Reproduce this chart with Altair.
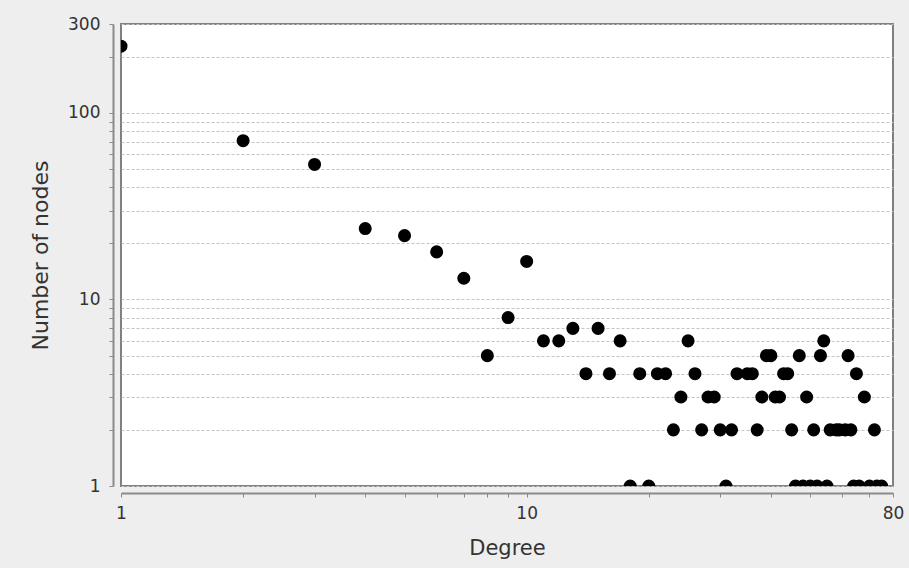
import altair as alt
import pandas as pd

degree = [1, 2, 3, 4, 5, 6, 7, 8, 9, 10,
          11, 12, 13, 14, 15, 16, 17, 18, 19, 20,
          21, 22, 23, 24, 25, 26, 27, 28, 29, 30,
          31, 32, 33, 35, 36, 37, 38, 39, 40, 41,
          42, 43, 44, 45, 46, 47, 48, 49, 50, 51,
          52, 53, 54, 55, 56, 58, 59, 61, 62, 63,
          64, 65, 66, 68, 70, 72, 73, 75]
nodes = [228, 71, 53, 24, 22, 18, 13, 5, 8, 16,
         6, 6, 7, 4, 7, 4, 6, 1, 4, 1,
         4, 4, 2, 3, 6, 4, 2, 3, 3, 2,
         1, 2, 4, 4, 4, 2, 3, 5, 5, 3,
         3, 4, 4, 2, 1, 5, 1, 3, 1, 2,
         1, 5, 6, 1, 2, 2, 2, 2, 5, 2,
         1, 4, 1, 3, 1, 2, 1, 1]

x_ticks = [1, 2, 3, 4, 5, 6, 7, 8, 9, 10, 20, 30, 40, 50, 60, 70, 80]
x_labels = [1, 10, 80]
y_ticks = [1, 2, 3, 4, 5, 6, 7, 8, 9, 10, 20, 30, 40, 50, 60, 70, 80, 90, 100, 200, 300]
y_labels = [1, 10, 100, 300]

df = pd.DataFrame({"degree": degree, "nodes": nodes})

FONT = "DejaVu Sans"
AX = "#8a8a8a"
TXT = "#333333"

chart = alt.Chart(df).mark_circle(size=170, color="black", opacity=1, clip=True).encode(
    x=alt.X(
        "degree:Q",
        scale=alt.Scale(type="log", domain=[1, 80], nice=False, zero=False),
        axis=alt.Axis(
            title="Degree",
            values=x_ticks,
            labelExpr="indexof(" + str(x_labels) + ", datum.value) >= 0 ? format(datum.value, 'd') : ''",
            labelOverlap=False,
            labelFlush=False,
            grid=False,
            offset=7,
            tickSize=4,
            labelPadding=8,
            titlePadding=16,
            titleFontSize=21,
        ),
    ),
    y=alt.Y(
        "nodes:Q",
        scale=alt.Scale(type="log", domain=[1, 300], nice=False, zero=False),
        axis=alt.Axis(
            title="Number of nodes",
            values=y_ticks,
            labelExpr="indexof(" + str(y_labels) + ", datum.value) >= 0 ? format(datum.value, 'd') : ''",
            labelOverlap=False,
            labelFlush=False,
            grid=True,
            gridDash=[3, 2],
            gridColor="#c4c4c4",
            gridWidth=1,
            offset=8,
            tickSize=4,
            labelPadding=9,
            titlePadding=15,
            titleFontSize=22,
        ),
    ),
).properties(
    width=772,
    height=462,
    padding={"left": 121, "top": 24, "right": 16, "bottom": 82},
    autosize="none",
    background="#eeeeee",
).configure_view(
    fill="white",
    stroke="#808080",
    strokeWidth=2,
).configure_axis(
    domainColor=AX,
    domainWidth=2,
    tickColor=AX,
    tickWidth=1,
    labelFont=FONT,
    labelFontSize=17,
    labelColor=TXT,
    titleFont=FONT,
    titleFontWeight="normal",
    titleColor=TXT,
)

chart.save("out.html", embed_options={"renderer": "svg", "actions": False})
